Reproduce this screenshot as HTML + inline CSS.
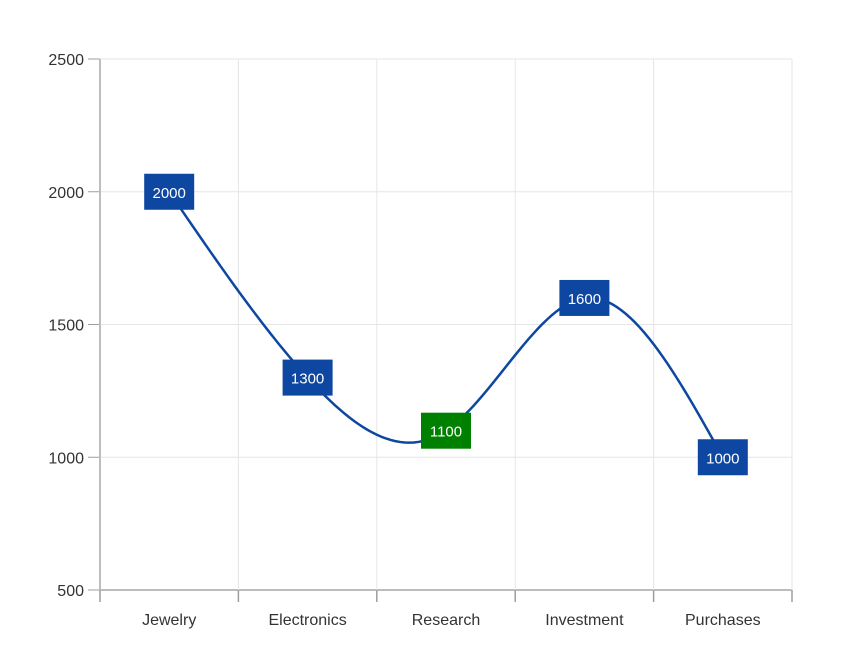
<!DOCTYPE html>
<html><head><meta charset="utf-8"><style>
html,body{margin:0;padding:0;background:#fff;width:858px;height:661px;overflow:hidden}
svg text{font-family:"Liberation Sans",sans-serif}
</style></head><body>
<svg id="chart" width="858" height="661" xmlns="http://www.w3.org/2000/svg"></svg>
<script>
const categories=["Jewelry","Electronics","Research","Investment","Purchases"];
const values=[2000,1300,1100,1600,1000];
const labelColors=["#0d47a1","#0d47a1","#008000","#0d47a1","#0d47a1"];
const yTicks=[500,1000,1500,2000,2500];
const X0=100,X1=792,Y0=590,Y1=59,YMIN=500,YMAX=2500;
const NS="http://www.w3.org/2000/svg";
const svg=document.getElementById('chart');
const bw=(X1-X0)/categories.length;
function xs(i){return X0+bw*(i+0.5);}
function ys(v){return Y0-(v-YMIN)/(YMAX-YMIN)*(Y0-Y1);}
function mk(t,a,p){const e=document.createElementNS(NS,t);for(const k in a)e.setAttribute(k,a[k]);(p||svg).appendChild(e);return e;}
// gridlines
yTicks.forEach(v=>{
 const l=mk('line',{x1:X0,x2:X1,y1:ys(v),y2:ys(v),stroke:v===YMIN?'#bdbdbd':'#e6e6e6','stroke-width':v===YMIN?2:1});
 
 
 const t=mk('line',{x1:88,x2:X0,y1:ys(v),y2:ys(v),stroke:'#9e9e9e','stroke-width':1});
 
 
 const tx=mk('text',{x:84,y:ys(v)+6,'text-anchor':'end','font-size':16,fill:'#333'});
 tx.textContent=v;
 
 
});
for(let i=0;i<=categories.length;i++){
 const x=X0+bw*i;
 if(i>0){const g=mk('line',{x1:x,x2:x,y1:Y1,y2:Y0,stroke:'#e6e6e6','stroke-width':1});
 
 }
 const t=mk('line',{x1:x,x2:x,y1:Y0,y2:602,stroke:'#9e9e9e','stroke-width':1.5});
 
 
}
const ax=mk('line',{x1:X0,x2:X0,y1:Y1,y2:Y0,stroke:'#bdbdbd','stroke-width':2});


categories.forEach((c,i)=>{
 const t=mk('text',{x:xs(i),y:625,'text-anchor':'middle','font-size':16,fill:'#333'});
 t.textContent=c;
 
 
});
// natural cubic spline
const px=values.map((v,i)=>xs(i)),py=values.map(v=>ys(v));
const n=px.length,h=[],al=[0],l=[1],mu=[0],z=[0],c=new Array(n).fill(0);
for(let i=0;i<n-1;i++)h.push(px[i+1]-px[i]);
for(let i=1;i<n-1;i++)al.push(3/h[i]*(py[i+1]-py[i])-3/h[i-1]*(py[i]-py[i-1]));
for(let i=1;i<n-1;i++){l[i]=2*(px[i+1]-px[i-1])-h[i-1]*mu[i-1];mu[i]=h[i]/l[i];z[i]=(al[i]-h[i-1]*z[i-1])/l[i];}
l[n-1]=1;z[n-1]=0;
const b=[],d=[];
for(let j=n-2;j>=0;j--){c[j]=z[j]-mu[j]*c[j+1];b[j]=(py[j+1]-py[j])/h[j]-h[j]*(c[j+1]+2*c[j])/3;d[j]=(c[j+1]-c[j])/(3*h[j]);}
let dstr='M'+px[0]+','+py[0];
for(let j=0;j<n-1;j++){for(let k=1;k<=30;k++){const t=h[j]*k/30;dstr+=' L'+(px[j]+t).toFixed(2)+','+(py[j]+b[j]*t+c[j]*t*t+d[j]*t*t*t).toFixed(2);}}
const path=mk('path',{d:dstr,fill:'none',stroke:'#0d47a1','stroke-width':2.5});


values.forEach((v,i)=>{
 const g=mk('g',{});
 
 
 mk('rect',{x:xs(i)-25,y:ys(v)-18,width:50,height:36,fill:labelColors[i]},g);
 const t=mk('text',{x:xs(i),y:ys(v)+6,'text-anchor':'middle','font-size':15,fill:'#fff'},g);
 t.textContent=v;
});
</script>
</body></html>
